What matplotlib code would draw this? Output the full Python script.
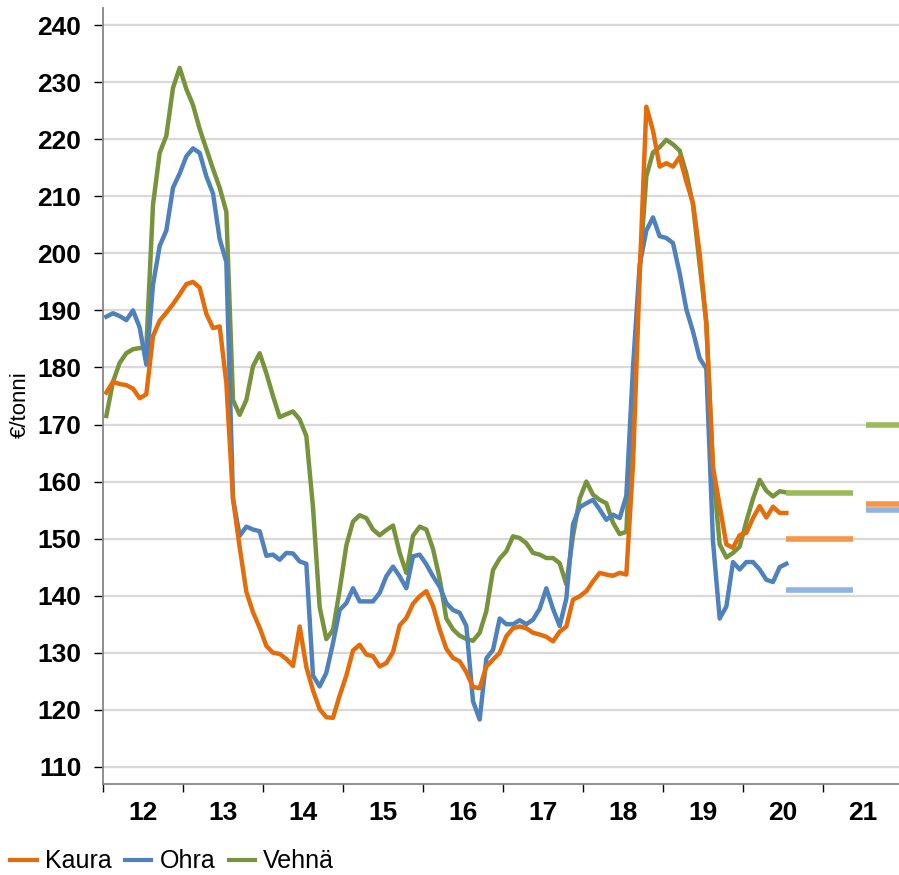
import numpy as np
import matplotlib
matplotlib.use("Agg")
import matplotlib.pyplot as plt
from matplotlib.lines import Line2D

# kuukausihinnat tammikuu 2012 - heinakuu 2020, €/tonni
kaura = [175.6, 177.5, 177.1, 176.9, 176.3, 174.6, 175.3, 185.5, 188.2, 189.6, 191.1, 192.8,
         194.6, 195.0, 194.0, 189.4, 186.9, 187.2, 177.3, 157.0, 148.5, 140.7, 137.1, 134.4,
         131.2, 130.0, 129.8, 128.9, 127.7, 134.6, 127.5, 123.4, 120.1, 118.7, 118.6, 122.5,
         126.0, 130.4, 131.4, 129.7, 129.4, 127.6, 128.2, 130.1, 134.8, 136.1, 138.6, 139.9,
         140.8, 138.2, 134.1, 130.7, 129.1, 128.5, 126.6, 124.0, 123.8, 127.6, 128.8, 130.0,
         132.9, 134.3, 134.6, 134.3, 133.5, 133.2, 132.8, 132.0, 133.7, 134.6, 139.3, 139.9,
         140.8, 142.5, 144.0, 143.7, 143.5, 144.0, 143.7, 163.0, 196.0, 225.7, 221.5, 215.2,
         215.8, 215.2, 216.9, 212.6, 208.8, 200.0, 187.5, 162.5, 155.8, 149.0, 148.4, 150.6,
         151.0, 153.6, 155.7, 153.7, 155.6, 154.5, 154.5]
ohra = [188.9, 189.5, 189.0, 188.3, 190.0, 187.0, 180.5, 194.5, 201.3, 204.0, 211.5, 214.0,
        217.0, 218.4, 217.6, 213.5, 210.5, 202.5, 198.5, 157.0, 150.5, 152.1, 151.6, 151.3,
        147.0, 147.2, 146.3, 147.5, 147.4, 146.0, 145.6, 126.0, 124.1, 126.5, 131.7, 137.5,
        138.7, 141.3, 139.0, 139.0, 139.0, 140.5, 143.4, 145.1, 143.4, 141.3, 146.9, 147.2,
        145.5, 143.4, 141.6, 138.7, 137.5, 137.0, 134.7, 121.5, 118.3, 129.0, 130.5, 136.0,
        135.0, 135.0, 135.7, 135.0, 135.8, 137.7, 141.3, 137.7, 134.7, 139.5, 152.5, 155.5,
        156.2, 156.8, 155.1, 153.3, 154.2, 153.6, 157.5, 180.0, 198.0, 204.0, 206.3, 203.0,
        202.7, 201.8, 196.5, 190.2, 186.3, 181.6, 179.8, 149.5, 136.0, 138.1, 145.9, 144.6,
        145.9, 145.9, 144.6, 142.8, 142.4, 145.0, 145.6]
vehna = [171.5, 177.5, 180.8, 182.5, 183.2, 183.4, 183.5, 208.5, 217.6, 220.6, 229.0, 232.5,
         228.8, 226.0, 221.8, 218.3, 214.8, 211.5, 207.3, 174.3, 171.7, 174.3, 180.2, 182.5,
         179.0, 175.0, 171.3, 171.8, 172.3, 170.9, 168.0, 155.5, 138.0, 132.4, 134.0, 141.0,
         148.8, 153.0, 154.1, 153.6, 151.6, 150.6, 151.5, 152.3, 147.5, 144.0, 150.5, 152.1,
         151.6, 148.2, 143.0, 136.0, 134.1, 133.0, 132.4, 132.1, 133.5, 137.3, 144.5, 146.5,
         147.8, 150.4, 150.1, 149.2, 147.5, 147.2, 146.6, 146.6, 145.7, 142.0, 150.5, 157.0,
         160.0, 157.7, 156.8, 156.2, 152.8, 150.8, 151.2, 176.0, 197.0, 213.5, 217.7, 218.6,
         219.9, 219.1, 218.0, 214.0, 208.5, 198.0, 188.0, 162.0, 149.0, 146.7, 147.5, 148.6,
         153.0, 157.0, 160.3, 158.4, 157.4, 158.3, 158.1]

# ennusteet kahdelle jaksolle (kuukausia alkaen 1/2012: alku, loppu)
ennuste_jaksot = [(102, 112), (114, 124)]
ennuste_kaura = [150, 156]
ennuste_ohra = [141, 155]
ennuste_vehna = [158, 170]

vuodet = ['12', '13', '14', '15', '16', '17', '18', '19', '20', '21']

c_kaura, c_ohra, c_vehna = '#E46C0A', '#4F81BD', '#77933C'
c_kaura2, c_ohra2, c_vehna2 = '#F79646', '#8DB4E2', '#9BBB59'

plt.rcParams['font.family'] = ['Liberation Sans', 'DejaVu Sans']

fig = plt.figure(figsize=(8.99, 8.75), dpi=100)
ax = fig.add_axes([103/899, 91/875, 796/899, 776/875])

x = np.arange(len(kaura)) + 0.5
ax.plot(x, vehna, color=c_vehna, lw=3.2, zorder=3)
ax.plot(x, ohra, color=c_ohra, lw=3.2, zorder=4)
ax.plot(x, kaura, color=c_kaura, lw=3.2, zorder=5)

for (a, b), k, o, v in zip(ennuste_jaksot, ennuste_kaura, ennuste_ohra, ennuste_vehna):
    ax.plot([a + 0.5, b + 0.5], [v, v], color=c_vehna2, lw=4, solid_capstyle='butt', zorder=3)
    ax.plot([a + 0.5, b + 0.5], [o, o], color=c_ohra2, lw=4, solid_capstyle='butt', zorder=3)
    ax.plot([a + 0.5, b + 0.5], [k, k], color=c_kaura2, lw=4, solid_capstyle='butt', zorder=4)

ax.set_xlim(0, 119.4)
ax.set_ylim(107, 243)

ax.set_yticks(np.arange(110, 241, 10))
ax.grid(axis='y', color='#D9D9D9', lw=1.6, zorder=0)
ax.set_axisbelow(True)

ax.set_xticks(np.arange(0, 120, 12))
ax.set_xticklabels([])
ax.set_xticks(np.arange(6, 120, 12), minor=True)
ax.set_xticklabels(vuodet, minor=True)

ax.tick_params(axis='y', length=6.5, width=1, pad=9, labelsize=19)
ax.tick_params(axis='x', which='major', length=6, width=1)
ax.tick_params(axis='x', which='minor', length=0, pad=12, labelsize=19)
for t in ax.get_yticklabels() + ax.get_xticklabels(minor=True):
    t.set_fontweight('bold')

for s in ['top', 'right']:
    ax.spines[s].set_visible(False)
for s in ['left', 'bottom']:
    ax.spines[s].set_color('#868686')
    ax.spines[s].set_linewidth(1.3)

fig.text(20/899, 1 - 405/875, '€/tonni', rotation=90, ha='center', va='center', fontsize=16)

handles = [Line2D([], [], color=c_kaura, lw=3),
           Line2D([], [], color=c_ohra, lw=3),
           Line2D([], [], color=c_vehna, lw=3)]
fig.legend(handles, ['Kaura', 'Ohra', 'Vehnä'], loc='lower left', bbox_to_anchor=(0.006, -0.004),
           ncol=3, frameon=False, fontsize=18, handlelength=1.05, handletextpad=0.32,
           columnspacing=0.55, borderaxespad=0, borderpad=0.2)

fig.savefig('out.png', dpi=100)
